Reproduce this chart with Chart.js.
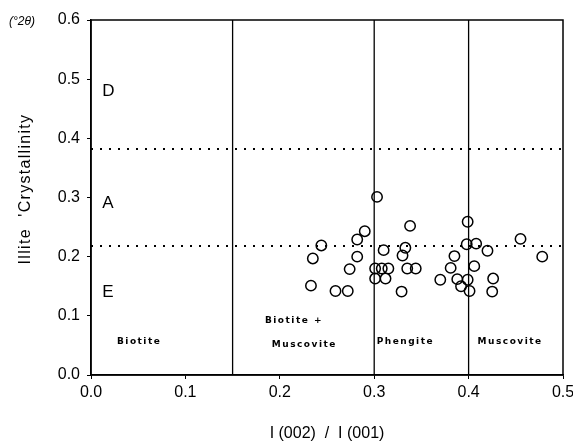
<!DOCTYPE html>
<html>
<head>
<meta charset="utf-8">
<script src="https://cdn.jsdelivr.net/npm/chart.js@4/dist/chart.umd.min.js"></script>
<style>
  html, body { margin: 0; padding: 0; background: #fff; }
</style>
</head>
<body>
<canvas id="illite-chart" width="573" height="445"></canvas>
<script>
// Sample values: I(002)/I(001) ratio vs illite crystallinity (°2θ)
const ratioValues = [
  0.303, 0.338, 0.399, 0.290, 0.282, 0.244, 0.235, 0.282, 0.274, 0.233,
  0.259, 0.272, 0.310, 0.301, 0.308, 0.315, 0.301, 0.312, 0.333, 0.330,
  0.335, 0.344, 0.329, 0.385, 0.381, 0.370, 0.388, 0.392, 0.399, 0.401,
  0.398, 0.408, 0.420, 0.406, 0.426, 0.425, 0.455, 0.478
];
const crystallinityValues = [
  0.301, 0.252, 0.259, 0.243, 0.229, 0.219, 0.197, 0.200, 0.179, 0.151,
  0.142, 0.142, 0.211, 0.180, 0.180, 0.180, 0.163, 0.163, 0.215, 0.202,
  0.180, 0.180, 0.141, 0.201, 0.181, 0.161, 0.162, 0.150, 0.161, 0.142,
  0.221, 0.222, 0.210, 0.184, 0.163, 0.141, 0.230, 0.200
];

// Mica field boundaries (x) and metamorphic zone limits (y)
const micaBoundaries = [0.15, 0.3, 0.4];
const zoneLimits = [0.382, 0.218];

// Zone letters and mica field names
const zoneLetters = ['D', 'A', 'E'];
const micaFields = [['Biotite'], ['Biotite +', 'Muscovite'], ['Phengite'], ['Muscovite']];

const xRange = [0, 0.5];
const yRange = [0, 0.6];

// Where the annotations sit, in data units
const letterSpots = [{ x: 0.012, y: 0.48 }, { x: 0.012, y: 0.29 }, { x: 0.012, y: 0.14 }];
const fieldSpots = [
  [{ x: 0.051, y: 0.057 }],
  [{ x: 0.215, y: 0.092 }, { x: 0.226, y: 0.052 }],
  [{ x: 0.333, y: 0.057 }],
  [{ x: 0.444, y: 0.057 }]
];

const points = ratioValues.map((x, i) => ({ x: x, y: crystallinityValues[i] }));

const datasets = [{
  label: 'samples',
  data: points,
  pointStyle: 'circle',
  pointRadius: 5.2,
  pointBorderWidth: 1.5,
  pointBorderColor: '#000',
  pointBackgroundColor: 'rgba(0,0,0,0)',
  order: 0
}];

micaBoundaries.forEach(b => {
  datasets.push({
    label: 'boundary ' + b,
    data: [{ x: b, y: yRange[0] }, { x: b, y: yRange[1] }],
    showLine: true,
    borderColor: '#000',
    borderWidth: 1.3,
    pointRadius: 0,
    order: 1
  });
});

zoneLimits.forEach(v => {
  datasets.push({
    label: 'limit ' + v,
    data: [{ x: xRange[0], y: v }, { x: xRange[1], y: v }],
    showLine: true,
    borderColor: '#000',
    borderWidth: 2,
    borderDash: [2, 7],
    pointRadius: 0,
    order: 1
  });
});

// Frame, y title, zone letters, mica field names and the unit note
const annotations = {
  id: 'annotations',
  afterDatasetsDraw(chart) {
    const { ctx, chartArea, scales } = chart;
    ctx.save();
    ctx.strokeStyle = '#000';
    ctx.lineWidth = 1.5;
    ctx.strokeRect(chartArea.left, chartArea.top, chartArea.right - chartArea.left, chartArea.bottom - chartArea.top);

    ctx.fillStyle = '#000';
    ctx.textBaseline = 'middle';

    // y axis title
    ctx.save();
    ctx.translate(26, 189);
    ctx.rotate(-Math.PI / 2);
    ctx.textAlign = 'center';
    ctx.font = '16px "Liberation Sans", Arial, sans-serif';
    ctx.letterSpacing = '1.3px';
    ctx.fillText("Illite  'Crystallinity", 0, 0);
    ctx.restore();

    ctx.textAlign = 'left';
    ctx.font = '17px "Liberation Sans", Arial, sans-serif';
    zoneLetters.forEach((t, i) => {
      ctx.fillText(t, scales.x.getPixelForValue(letterSpots[i].x), scales.y.getPixelForValue(letterSpots[i].y));
    });

    ctx.textAlign = 'center';
    ctx.font = 'bold 9px "DejaVu Sans", sans-serif';
    ctx.letterSpacing = '1.5px';
    micaFields.forEach((lines, i) => {
      lines.forEach((t, j) => {
        const s = fieldSpots[i][j];
        ctx.fillText(t, scales.x.getPixelForValue(s.x), scales.y.getPixelForValue(s.y));
      });
    });
    ctx.letterSpacing = '0px';

    ctx.textAlign = 'left';
    ctx.font = 'italic 12px "Liberation Sans", Arial, sans-serif';
    ctx.fillText('(°2θ)', 9, 22);
    ctx.restore();
  }
};

const tickFont = { family: '"Liberation Sans", Arial, sans-serif', size: 16 };

const ctx = document.getElementById('illite-chart').getContext('2d');
window.illiteChart = new Chart(ctx, {
  type: 'scatter',
  data: { datasets: datasets },
  options: {
    responsive: false,
    animation: false,
    layout: { padding: { top: 20, right: 10, left: 0, bottom: 0 } },
    plugins: {
      legend: { display: false },
      tooltip: { enabled: false }
    },
    scales: {
      x: {
        type: 'linear',
        min: xRange[0],
        max: xRange[1],
        ticks: {
          stepSize: 0.1,
          color: '#000',
          font: tickFont,
          padding: 4,
          callback: v => v.toFixed(1)
        },
        grid: { drawOnChartArea: false, color: '#000', tickLength: 4 },
        border: { color: '#000', width: 1.5 },
        title: {
          display: true,
          text: 'I (002)  /  I (001)',
          color: '#000',
          font: { family: '"Liberation Sans", Arial, sans-serif', size: 16 },
          padding: { top: 0, bottom: 2 }
        },
        afterFit(scale) {
          scale.height = 70;
          scale.paddingRight = 0;
        }
      },
      y: {
        type: 'linear',
        min: yRange[0],
        max: yRange[1],
        ticks: {
          stepSize: 0.1,
          color: '#000',
          font: tickFont,
          padding: 7,
          callback: v => v.toFixed(1)
        },
        grid: { drawOnChartArea: false, color: '#000', tickLength: 4 },
        border: { color: '#000', width: 1.5 },
        afterFit(scale) { scale.width = 91; }
      }
    }
  },
  plugins: [annotations]
});
</script>
</body>
</html>
